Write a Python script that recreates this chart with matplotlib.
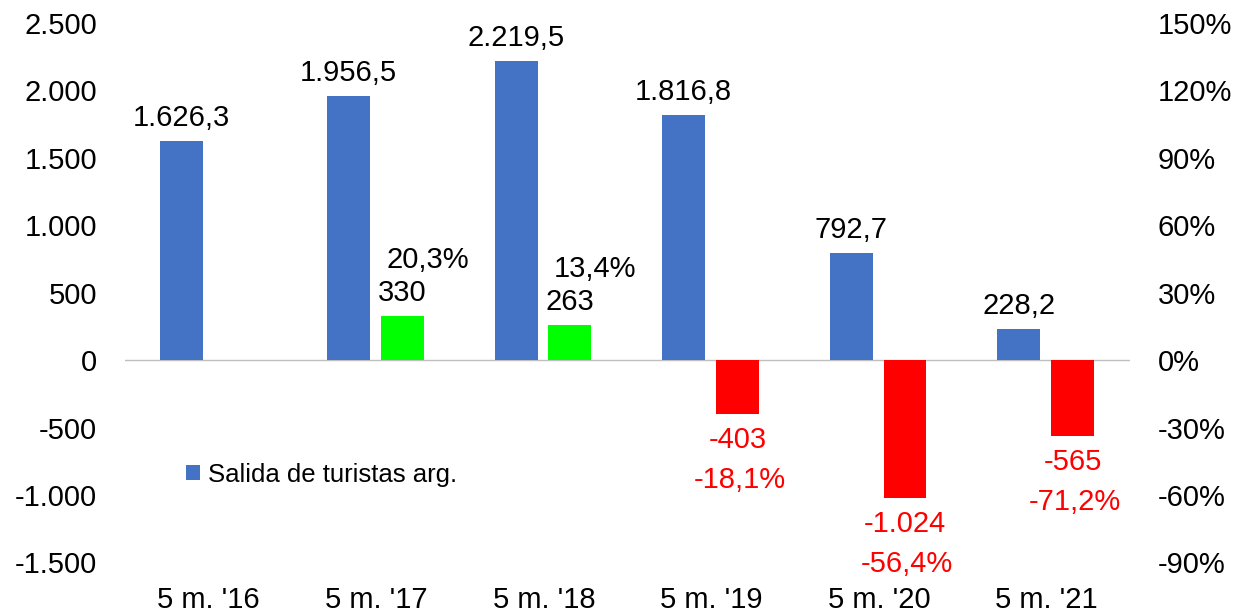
import matplotlib.pyplot as plt
import numpy as np

plt.rcParams['font.family'] = ['Liberation Sans', 'DejaVu Sans']

periodos = ["5 m. '16", "5 m. '17", "5 m. '18", "5 m. '19", "5 m. '20", "5 m. '21"]
salidas = [1626.3, 1956.5, 2219.5, 1816.8, 792.7, 228.2]
variacion = [None, 330, 263, -403, -1024, -565]
variacion_pct = [None, 20.3, 13.4, -18.1, -56.4, -71.2]


def fmt_es(v, dec=1):
    s = f"{v:,.{dec}f}"
    return s.replace(',', 'X').replace('.', ',').replace('X', '.')


FS = 21

fig = plt.figure(figsize=(12.38, 6.15), dpi=100)
ax = fig.add_axes([0.101, 0.0854, 0.812, 0.8776])
x = np.arange(len(periodos))
w = 0.256

ax.bar(x - 0.165, salidas, width=w, color='#4472C4', label='Salida de turistas arg.', zorder=3)
for xi, v in zip(x, salidas):
    ax.annotate(fmt_es(v), (xi - 0.165, v), xytext=(0, 9), textcoords='offset pixels',
                ha='center', va='bottom', fontsize=FS)

for xi, v, p in zip(x, variacion, variacion_pct):
    if v is None:
        continue
    col = '#00FF00' if v > 0 else '#FF0000'
    ax.bar(xi + 0.155, v, width=w, color=col, zorder=3)
    if v > 0:
        ax.annotate(fmt_es(v, 0), (xi + 0.155, v), xytext=(0, 9), textcoords='offset pixels',
                    ha='center', va='bottom', fontsize=FS)
        ax.annotate(fmt_es(p) + '%', (xi + 0.155, v), xytext=(25, 42), textcoords='offset pixels',
                    ha='center', va='bottom', fontsize=FS)
    else:
        ax.annotate(fmt_es(v, 0), (xi + 0.155, v), xytext=(0, -12), textcoords='offset pixels',
                    ha='center', va='top', fontsize=FS, color='#FF0000')
        ax.annotate(fmt_es(p) + '%', (xi + 0.155, v), xytext=(2, -52), textcoords='offset pixels',
                    ha='center', va='top', fontsize=FS, color='#FF0000')

ax.set_xlim(-0.5, 5.5)
ax.set_ylim(-1500, 2500)
ax.set_yticks(range(-1500, 2501, 500))
ax.set_yticklabels([fmt_es(t, 0) for t in range(-1500, 2501, 500)])
ax.set_xticks(x)
ax.set_xticklabels(periodos)
ax.axhline(0, color='#BFBFBF', lw=1, zorder=2)
for s in ax.spines.values():
    s.set_visible(False)
ax.tick_params(axis='both', length=0, labelsize=FS)
ax.tick_params(axis='y', pad=20)
ax.tick_params(axis='x', pad=17)

ax2 = ax.twinx()
ax2.set_ylim(-90, 150)
ax2.set_yticks(range(-90, 151, 30))
ax2.set_yticklabels([f"{t}%" for t in range(-90, 151, 30)])
for s in ax2.spines.values():
    s.set_visible(False)
ax2.tick_params(axis='y', length=0, labelsize=FS, pad=19.5)

ax.legend(loc='upper left', bbox_to_anchor=(0.038, 0.228), frameon=False, fontsize=18.5,
          handlelength=0.55, handleheight=0.55, handletextpad=0.3)

fig.savefig('out.png', dpi=100)
